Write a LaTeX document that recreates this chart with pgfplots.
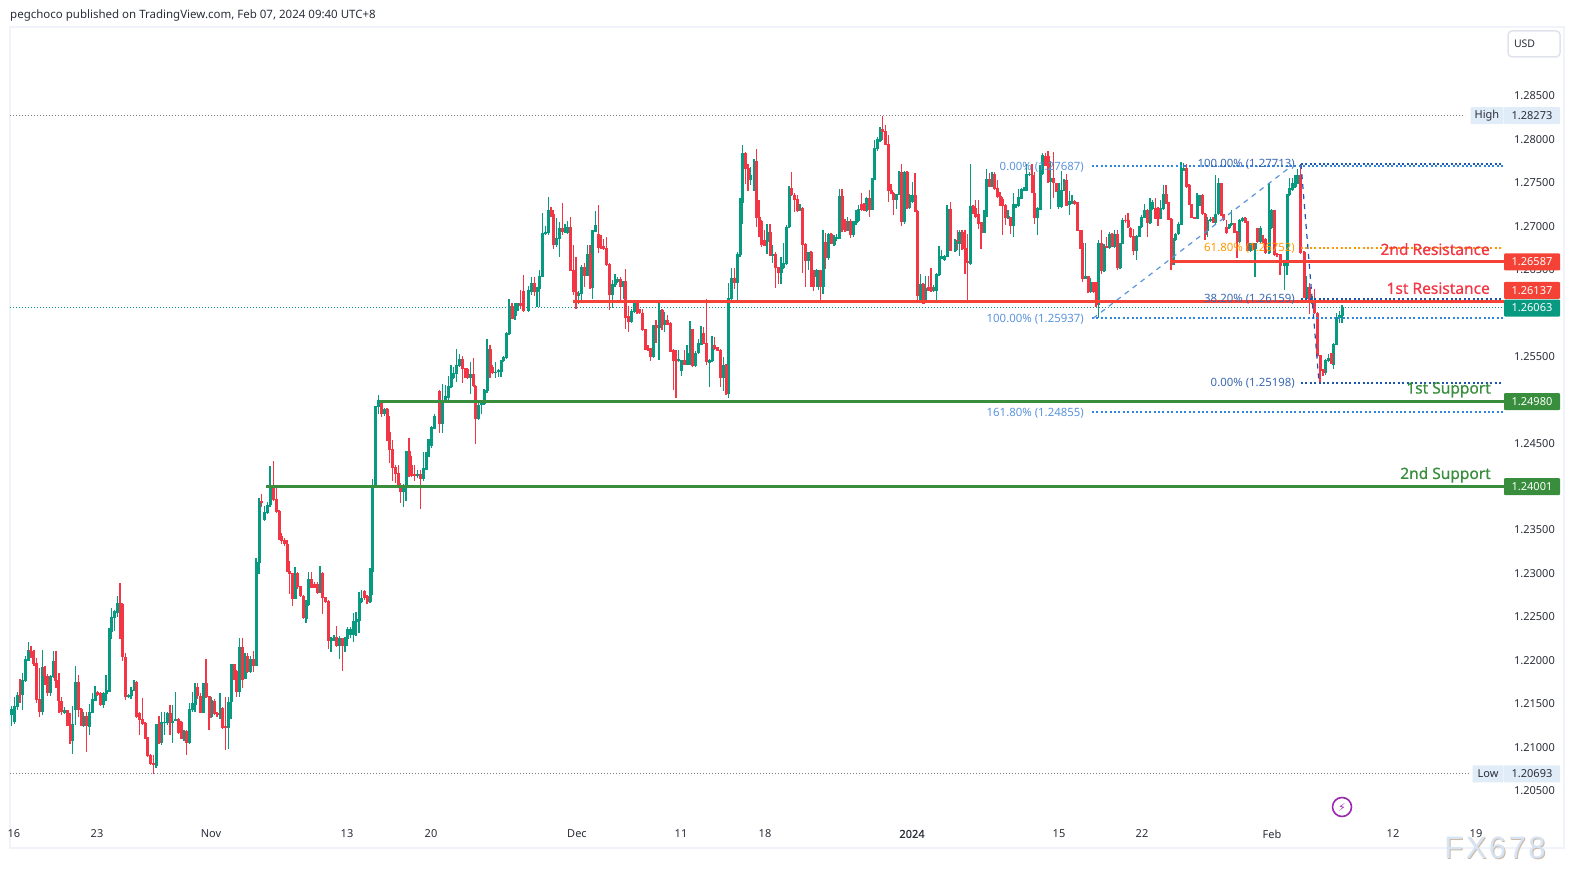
\documentclass[border=0pt]{standalone}
\usepackage{fontspec}
\usepackage{pgfplots}
\usepackage{pgfplotstable}
\pgfplotsset{compat=1.18}
\setmainfont{Noto Sans}
\newfontfamily\boldish[FakeBold=0.6]{Noto Sans}
\newfontfamily\wmfont[LetterSpace=8]{Liberation Sans}
\newfontfamily\symfont{DejaVu Sans}
\definecolor{cgreen}{HTML}{089981}
\definecolor{cred}{HTML}{F23645}
\definecolor{lred}{HTML}{F44336}
\definecolor{lgreen}{HTML}{388E3C}
\definecolor{frame}{HTML}{F0F3FA}
\definecolor{grayt}{HTML}{787B86}
\definecolor{tagb}{HTML}{E1ECF9}
\definecolor{fiba}{HTML}{2E86E0}
\definecolor{fibat}{HTML}{5B94DC}
\definecolor{fibb}{HTML}{1E55B0}
\definecolor{fibbt}{HTML}{3A68B0}
\definecolor{forange}{HTML}{FF9800}
\definecolor{txt}{HTML}{2A2E39}
\definecolor{wmfill}{HTML}{D6E4F4}
\definecolor{wmshadow}{HTML}{CDB9A6}
\definecolor{purp}{HTML}{9C27B0}
\definecolor{usdb}{HTML}{E0E3EB}
\pgfplotstableread{
x o h l c
11.7 1.2137 1.2147 1.2124 1.2143
14.3 1.2129 1.2158 1.2127 1.2147
17.3 1.2147 1.2163 1.2143 1.2160
20 1.2160 1.2179 1.2151 1.2159
22.7 1.2160 1.2185 1.2143 1.2177
25.3 1.2177 1.2205 1.2175 1.2201
28.3 1.2200 1.2221 1.2199 1.2212
31 1.2212 1.2216 1.2203 1.2210
34 1.2210 1.2212 1.2194 1.2196
36.7 1.2196 1.2203 1.2151 1.2155
39.3 1.2155 1.2191 1.2135 1.2141
42.3 1.2141 1.2212 1.2137 1.2192
45 1.2192 1.2193 1.2172 1.2182
47.7 1.2182 1.2184 1.2159 1.2163
50.3 1.2163 1.2183 1.2159 1.2181
53.3 1.2181 1.2211 1.2180 1.2199
56 1.2199 1.2211 1.2168 1.2177
59 1.2177 1.2185 1.2139 1.2153
61.7 1.2153 1.2158 1.2137 1.2141
64.3 1.2140 1.2146 1.2138 1.2142
67 1.2142 1.2143 1.2125 1.2125
70 1.2125 1.2139 1.2104 1.2107
72.7 1.2107 1.2147 1.2092 1.2126
75.3 1.2143 1.2193 1.2126 1.2175
78.3 1.2175 1.2183 1.2135 1.2143
81 1.2144 1.2145 1.2124 1.2125
83.7 1.2125 1.2140 1.2123 1.2135
86.7 1.2135 1.2140 1.2094 1.2125
89.3 1.2124 1.2150 1.2114 1.2140
92.3 1.2140 1.2162 1.2139 1.2155
95 1.2154 1.2170 1.2153 1.2163
97.7 1.2163 1.2165 1.2159 1.2160
100.3 1.2162 1.2164 1.2147 1.2149
103.3 1.2149 1.2164 1.2145 1.2162
106 1.2162 1.2183 1.2153 1.2165
109 1.2164 1.2237 1.2163 1.2233
111.7 1.2233 1.2260 1.2224 1.2249
114.3 1.2249 1.2258 1.2234 1.2256
117.3 1.2255 1.2274 1.2250 1.2266
120 1.2266 1.2289 1.2224 1.2265
122.7 1.2265 1.2266 1.2199 1.2204
125.3 1.2204 1.2208 1.2154 1.2158
128.3 1.2158 1.2161 1.2157 1.2160
131 1.2159 1.2169 1.2155 1.2166
134 1.2166 1.2177 1.2165 1.2175
136.7 1.2175 1.2176 1.2134 1.2135
139.3 1.2139 1.2140 1.2114 1.2132
142.3 1.2132 1.2157 1.2125 1.2127
145 1.2128 1.2129 1.2109 1.2111
147.7 1.2111 1.2112 1.2089 1.2090
150.7 1.2091 1.2092 1.2080 1.2081
153.3 1.2081 1.2091 1.2069 1.2080
156 1.2079 1.2126 1.2076 1.2126
159 1.2126 1.2136 1.2104 1.2105
161.7 1.2105 1.2141 1.2103 1.2128
164.3 1.2128 1.2140 1.2114 1.2129
167.3 1.2128 1.2140 1.2126 1.2139
170 1.2139 1.2149 1.2114 1.2129
172.7 1.2128 1.2149 1.2105 1.2130
175.7 1.2131 1.2163 1.2130 1.2132
178.3 1.2132 1.2134 1.2115 1.2117
181 1.2128 1.2130 1.2109 1.2110
184 1.2110 1.2120 1.2107 1.2118
186.7 1.2118 1.2120 1.2091 1.2105
189.3 1.2105 1.2151 1.2104 1.2143
192.3 1.2143 1.2164 1.2141 1.2150
195 1.2149 1.2174 1.2141 1.2169
197.7 1.2169 1.2174 1.2155 1.2159
200.7 1.2159 1.2162 1.2139 1.2140
203.3 1.2140 1.2174 1.2139 1.2173
206 1.2173 1.2202 1.2157 1.2158
209 1.2158 1.2159 1.2120 1.2134
211.7 1.2135 1.2158 1.2134 1.2154
214.3 1.2153 1.2155 1.2137 1.2139
217 1.2139 1.2141 1.2135 1.2137
220 1.2138 1.2162 1.2133 1.2145
222.7 1.2145 1.2146 1.2121 1.2123
225.3 1.2124 1.2158 1.2097 1.2122
228.3 1.2122 1.2158 1.2098 1.2152
231 1.2152 1.2195 1.2133 1.2195
234 1.2195 1.2196 1.2177 1.2178
236.7 1.2187 1.2189 1.2158 1.2164
239.3 1.2164 1.2226 1.2158 1.2215
242.3 1.2215 1.2226 1.2168 1.2178
245 1.2179 1.2209 1.2178 1.2205
247.7 1.2204 1.2208 1.2185 1.2187
250.7 1.2187 1.2205 1.2185 1.2201
253.3 1.2201 1.2211 1.2187 1.2194
256 1.2194 1.2318 1.2193 1.2313
259 1.2313 1.2387 1.2299 1.2383
261.7 1.2383 1.2391 1.2377 1.2382
264.3 1.2362 1.2378 1.2360 1.2370
267.3 1.2370 1.2382 1.2369 1.2379
270 1.2379 1.2424 1.2377 1.2400
273.3 1.2400 1.2429 1.2384 1.2385
276.3 1.2385 1.2400 1.2370 1.2371
279 1.2371 1.2373 1.2339 1.2343
281.7 1.2343 1.2347 1.2334 1.2338
284.3 1.2338 1.2341 1.2332 1.2334
287 1.2334 1.2338 1.2302 1.2303
289.3 1.2303 1.2314 1.2276 1.2300
292.3 1.2300 1.2301 1.2263 1.2271
295 1.2271 1.2308 1.2271 1.2300
297.7 1.2300 1.2302 1.2282 1.2285
300.3 1.2285 1.2286 1.2273 1.2274
303.3 1.2274 1.2275 1.2248 1.2249
306 1.2248 1.2269 1.2243 1.2265
308.7 1.2264 1.2302 1.2263 1.2293
311.7 1.2293 1.2302 1.2283 1.2284
314.3 1.2288 1.2290 1.2283 1.2284
317.3 1.2288 1.2290 1.2276 1.2278
320 1.2278 1.2309 1.2277 1.2300
322.7 1.2300 1.2302 1.2253 1.2272
325.3 1.2272 1.2273 1.2266 1.2268
328.3 1.2268 1.2270 1.2213 1.2223
331 1.2223 1.2227 1.2210 1.2225
334 1.2224 1.2229 1.2222 1.2227
336.7 1.2226 1.2239 1.2215 1.2217
339.3 1.2217 1.2228 1.2201 1.2225
342.3 1.2225 1.2226 1.2188 1.2217
345 1.2217 1.2227 1.2210 1.2225
347.7 1.2225 1.2238 1.2216 1.2236
350.3 1.2229 1.2238 1.2226 1.2236
353.3 1.2229 1.2254 1.2221 1.2245
356 1.2244 1.2256 1.2228 1.2247
359 1.2246 1.2279 1.2231 1.2269
361.7 1.2268 1.2281 1.2266 1.2271
364.3 1.2280 1.2281 1.2270 1.2272
367 1.2274 1.2275 1.2265 1.2268
370 1.2268 1.2306 1.2266 1.2302
372.7 1.2302 1.2409 1.2275 1.2400
375.7 1.2400 1.2492 1.2398 1.2492
378.3 1.2492 1.2505 1.2484 1.2499
381.3 1.2499 1.2500 1.2480 1.2484
384.3 1.2484 1.2490 1.2481 1.2489
387 1.2489 1.2490 1.2452 1.2463
389.7 1.2462 1.2481 1.2427 1.2443
392.3 1.2443 1.2454 1.2406 1.2422
395.3 1.2422 1.2425 1.2404 1.2415
398.3 1.2415 1.2425 1.2400 1.2402
400.7 1.2402 1.2404 1.2381 1.2394
403.3 1.2394 1.2403 1.2377 1.2402
406 1.2401 1.2441 1.2383 1.2441
409 1.2441 1.2456 1.2411 1.2424
411.7 1.2424 1.2435 1.2411 1.2413
414.7 1.2414 1.2425 1.2406 1.2413
417.7 1.2413 1.2419 1.2410 1.2414
420.3 1.2414 1.2419 1.2374 1.2409
423.3 1.2409 1.2440 1.2406 1.2421
426 1.2420 1.2440 1.2419 1.2436
428.7 1.2435 1.2454 1.2434 1.2454
431.3 1.2447 1.2470 1.2445 1.2468
434.7 1.2467 1.2484 1.2466 1.2481
439.3 1.2510 1.2511 1.2462 1.2472
442.3 1.2472 1.2518 1.2462 1.2498
445.3 1.2499 1.2517 1.2498 1.2504
448.3 1.2503 1.2527 1.2497 1.2516
451 1.2515 1.2540 1.2514 1.2526
453.7 1.2525 1.2538 1.2524 1.2530
456.7 1.2530 1.2559 1.2521 1.2540
459.3 1.2539 1.2553 1.2538 1.2547
462.3 1.2547 1.2550 1.2519 1.2536
465 1.2536 1.2537 1.2525 1.2526
467.7 1.2535 1.2537 1.2524 1.2526
470.7 1.2525 1.2544 1.2507 1.2529
473.3 1.2529 1.2548 1.2515 1.2516
475.7 1.2516 1.2517 1.2449 1.2478
478.3 1.2478 1.2500 1.2477 1.2494
481.3 1.2494 1.2498 1.2484 1.2498
484 1.2495 1.2512 1.2494 1.2511
487 1.2510 1.2570 1.2508 1.2558
490 1.2558 1.2563 1.2525 1.2532
492.7 1.2537 1.2540 1.2530 1.2531
495.3 1.2531 1.2544 1.2525 1.2532
498.3 1.2532 1.2535 1.2526 1.2534
501 1.2532 1.2546 1.2526 1.2545
503.7 1.2545 1.2550 1.2543 1.2549
506.3 1.2548 1.2578 1.2547 1.2576
509 1.2576 1.2616 1.2575 1.2608
512 1.2608 1.2611 1.2593 1.2594
515 1.2597 1.2611 1.2592 1.2603
517.7 1.2603 1.2612 1.2602 1.2611
520.3 1.2611 1.2627 1.2605 1.2608
523.3 1.2625 1.2644 1.2601 1.2603
528.7 1.2603 1.2631 1.2601 1.2626
531.3 1.2624 1.2641 1.2621 1.2634
534.3 1.2634 1.2641 1.2620 1.2624
537 1.2624 1.2630 1.2607 1.2629
539.7 1.2628 1.2649 1.2607 1.2642
542.3 1.2642 1.2715 1.2641 1.2692
545.3 1.2692 1.2700 1.2690 1.2693
548.3 1.2692 1.2733 1.2690 1.2718
551 1.2718 1.2722 1.2711 1.2713
553.7 1.2713 1.2718 1.2674 1.2679
556.7 1.2679 1.2709 1.2676 1.2686
559.3 1.2685 1.2705 1.2665 1.2697
562.3 1.2697 1.2727 1.2690 1.2694
565 1.2693 1.2703 1.2692 1.2694
567.7 1.2692 1.2706 1.2691 1.2699
570.3 1.2699 1.2711 1.2648 1.2649
573.7 1.2649 1.2678 1.2621 1.2624
576 1.2624 1.2665 1.2604 1.2620
578.7 1.2620 1.2625 1.2610 1.2623
581.7 1.2622 1.2655 1.2611 1.2652
584.3 1.2652 1.2657 1.2630 1.2643
587.3 1.2643 1.2678 1.2642 1.2668
590 1.2668 1.2678 1.2628 1.2629
592.3 1.2629 1.2696 1.2616 1.2695
595.3 1.2694 1.2717 1.2693 1.2701
598.3 1.2690 1.2724 1.2669 1.2675
601 1.2677 1.2690 1.2674 1.2675
603.7 1.2677 1.2685 1.2673 1.2674
606.3 1.2674 1.2687 1.2654 1.2656
609.3 1.2656 1.2657 1.2603 1.2621
612.3 1.2621 1.2638 1.2606 1.2633
615 1.2633 1.2645 1.2630 1.2636
617.7 1.2636 1.2641 1.2634 1.2639
620.3 1.2639 1.2641 1.2615 1.2630
623.3 1.2630 1.2637 1.2616 1.2636
625.7 1.2636 1.2651 1.2582 1.2595
628.7 1.2596 1.2608 1.2578 1.2590
631.3 1.2590 1.2605 1.2589 1.2602
634.3 1.2601 1.2615 1.2600 1.2614
637 1.2612 1.2614 1.2599 1.2600
639.7 1.2604 1.2605 1.2599 1.2600
642.3 1.2599 1.2604 1.2579 1.2581
645.3 1.2581 1.2582 1.2557 1.2558
648 1.2559 1.2563 1.2556 1.2558
650.7 1.2559 1.2560 1.2545 1.2550
653.3 1.2550 1.2586 1.2548 1.2586
656 1.2586 1.2592 1.2565 1.2583
659 1.2583 1.2613 1.2546 1.2603
662 1.2603 1.2604 1.2580 1.2586
664.7 1.2586 1.2601 1.2578 1.2591
667.3 1.2591 1.2598 1.2586 1.2587
670.3 1.2588 1.2590 1.2555 1.2556
673.3 1.2557 1.2558 1.2511 1.2545
676 1.2546 1.2557 1.2502 1.2545
678.7 1.2545 1.2557 1.2544 1.2547
681.3 1.2533 1.2546 1.2527 1.2546
684.3 1.2546 1.2557 1.2540 1.2541
687 1.2541 1.2563 1.2540 1.2553
690 1.2541 1.2591 1.2540 1.2581
692.7 1.2581 1.2582 1.2538 1.2539
695.3 1.2539 1.2556 1.2538 1.2554
698.3 1.2554 1.2570 1.2553 1.2565
701 1.2564 1.2585 1.2563 1.2576
703.7 1.2576 1.2584 1.2564 1.2565
706.7 1.2565 1.2616 1.2540 1.2544
709.3 1.2543 1.2547 1.2515 1.2546
712 1.2545 1.2573 1.2544 1.2563
714.7 1.2563 1.2572 1.2558 1.2559
717.7 1.2560 1.2561 1.2556 1.2557
720.3 1.2557 1.2559 1.2515 1.2525
723.3 1.2525 1.2549 1.2510 1.2540
726 1.2540 1.2541 1.2506 1.2507
728.7 1.2507 1.2634 1.2502 1.2617
731.7 1.2616 1.2652 1.2615 1.2640
734.3 1.2640 1.2652 1.2628 1.2635
737.3 1.2635 1.2670 1.2615 1.2667
740 1.2667 1.2732 1.2665 1.2727
742.7 1.2727 1.2793 1.2703 1.2784
745.3 1.2784 1.2785 1.2748 1.2766
748 1.2766 1.2772 1.2741 1.2753
750.7 1.2753 1.2768 1.2747 1.2759
754 1.2758 1.2777 1.2741 1.2775
756.3 1.2775 1.2789 1.2699 1.2710
759 1.2710 1.2730 1.2688 1.2704
761.7 1.2705 1.2707 1.2676 1.2679
764.3 1.2684 1.2695 1.2677 1.2678
767 1.2682 1.2703 1.2668 1.2693
770 1.2693 1.2703 1.2666 1.2667
772.7 1.2666 1.2678 1.2657 1.2667
775.3 1.2667 1.2670 1.2629 1.2652
778.3 1.2652 1.2653 1.2633 1.2646
781 1.2646 1.2665 1.2633 1.2652
783.7 1.2652 1.2680 1.2651 1.2657
786.3 1.2657 1.2701 1.2655 1.2699
789 1.2699 1.2746 1.2698 1.2744
791.7 1.2744 1.2762 1.2735 1.2736
794.3 1.2736 1.2738 1.2716 1.2731
797.3 1.2731 1.2736 1.2716 1.2718
800 1.2718 1.2726 1.2717 1.2721
802.7 1.2721 1.2722 1.2646 1.2679
805.7 1.2679 1.2680 1.2630 1.2660
808.3 1.2660 1.2670 1.2649 1.2670
811 1.2670 1.2671 1.2630 1.2649
813.7 1.2649 1.2650 1.2625 1.2630
816.4 1.2642 1.2651 1.2630 1.2649
818.7 1.2630 1.2650 1.2626 1.2649
820.9 1.2649 1.2650 1.2615 1.2630
823 1.2630 1.2695 1.2622 1.2681
825.7 1.2681 1.2692 1.2651 1.2664
828.3 1.2664 1.2692 1.2661 1.2691
831 1.2691 1.2692 1.2679 1.2680
834 1.2679 1.2690 1.2677 1.2686
836.7 1.2686 1.2691 1.2683 1.2687
839.3 1.2686 1.2743 1.2685 1.2734
842 1.2734 1.2743 1.2693 1.2696
845 1.2706 1.2708 1.2693 1.2695
847.7 1.2695 1.2710 1.2694 1.2706
850.3 1.2705 1.2708 1.2686 1.2690
853.3 1.2690 1.2706 1.2688 1.2705
856 1.2704 1.2718 1.2701 1.2707
858.7 1.2706 1.2724 1.2705 1.2719
861.3 1.2725 1.2738 1.2718 1.2719
864 1.2725 1.2727 1.2717 1.2718
866.7 1.2718 1.2734 1.2716 1.2732
869.3 1.2732 1.2742 1.2711 1.2719
872 1.2719 1.2755 1.2718 1.2754
874.7 1.2754 1.2799 1.2753 1.2789
877.3 1.2789 1.2803 1.2787 1.2800
880 1.2798 1.2814 1.2797 1.2812
882.7 1.2812 1.28273 1.2799 1.2809
885.7 1.2809 1.2816 1.2793 1.2794
888.3 1.2794 1.2805 1.2728 1.2741
891 1.2741 1.2749 1.2737 1.2738
893.7 1.2738 1.2739 1.2713 1.2731
896.3 1.2731 1.2737 1.2720 1.2737
899 1.2737 1.2764 1.2736 1.2762
901.7 1.2762 1.2771 1.2700 1.2705
904.3 1.2705 1.2763 1.2703 1.2762
907 1.2762 1.2763 1.2720 1.2721
909.7 1.2721 1.2737 1.2720 1.2736
912.3 1.2728 1.2751 1.2727 1.2736
915 1.2736 1.2761 1.2716 1.2717
917.7 1.2717 1.2718 1.2615 1.2620
920.3 1.2612 1.2645 1.2611 1.2633
923 1.2633 1.2634 1.2610 1.2611
925.7 1.2612 1.2642 1.2611 1.2628
928.3 1.2630 1.2642 1.2625 1.2626
931 1.2630 1.2652 1.2624 1.2626
933.7 1.2626 1.2632 1.2624 1.2630
936.3 1.2626 1.2646 1.2615 1.2644
939 1.2644 1.2677 1.2642 1.2664
941.7 1.2663 1.2673 1.2662 1.2665
944.3 1.2661 1.2667 1.2660 1.2665
947 1.2665 1.2724 1.2664 1.2719
950.7 1.2719 1.2728 1.2671 1.2672
955 1.2672 1.2685 1.2670 1.2683
957.7 1.2684 1.2695 1.2672 1.2683
959.3 1.2680 1.2695 1.2666 1.2693
962 1.2693 1.2695 1.2673 1.2674
965 1.2674 1.2695 1.2645 1.2659
967.3 1.2659 1.2691 1.2613 1.2658
970.3 1.2657 1.2771 1.2655 1.2723
973 1.2723 1.2724 1.2714 1.2715
975.7 1.2721 1.2730 1.2710 1.2711
978.3 1.2714 1.2730 1.2697 1.2703
981 1.2704 1.2705 1.2674 1.2693
984 1.2693 1.2718 1.2692 1.2711
986.7 1.2711 1.2766 1.2710 1.2754
989.3 1.2754 1.2761 1.2745 1.2746
992 1.2746 1.2762 1.2745 1.2760
994.7 1.2760 1.2762 1.2742 1.2743
997.3 1.2743 1.2753 1.2733 1.2734
1000 1.2734 1.2739 1.2723 1.2724
1002.7 1.2731 1.2733 1.2690 1.2724
1005.3 1.2724 1.2725 1.2701 1.2710
1008 1.2709 1.2718 1.2708 1.2711
1010.7 1.2710 1.2711 1.2691 1.2700
1013.3 1.2700 1.2738 1.2687 1.2725
1016 1.2723 1.2726 1.2721 1.2725
1018.7 1.2723 1.2743 1.2722 1.2733
1021.3 1.2732 1.2744 1.2731 1.2742
1024 1.2741 1.2745 1.2740 1.2742
1026.7 1.2741 1.2772 1.2740 1.2760
1029.3 1.2759 1.2762 1.2758 1.2760
1032 1.2759 1.2772 1.2738 1.2739
1034.7 1.2738 1.2762 1.2702 1.2710
1037.3 1.2710 1.2722 1.2690 1.2721
1040 1.2719 1.2770 1.2718 1.2760
1042.7 1.2760 1.2784 1.2759 1.2782
1045.3 1.2780 1.2784 1.2769 1.2770
1048 1.2780 1.2786 1.2750 1.2751
1050.7 1.2751 1.2775 1.2720 1.2755
1053.3 1.2755 1.2785 1.2732 1.2750
1056 1.2749 1.2750 1.2740 1.2741
1058.7 1.2722 1.2750 1.2720 1.2749
1061.3 1.2722 1.2764 1.2721 1.2741
1064 1.2741 1.2754 1.2740 1.2753
1066.7 1.2753 1.2760 1.2723 1.2724
1069.3 1.2725 1.2741 1.2713 1.2728
1072 1.2726 1.2736 1.2725 1.2729
1074.7 1.2728 1.2730 1.2725 1.2726
1077.3 1.2727 1.2728 1.2694 1.2695
1080 1.2695 1.2696 1.2674 1.2680
1082.7 1.2680 1.2695 1.2636 1.2640
1085.3 1.2640 1.2680 1.2639 1.2642
1088 1.2642 1.2643 1.2623 1.2624
1090.7 1.2624 1.2640 1.2623 1.2635
1093.3 1.2635 1.2636 1.2623 1.2624
1096 1.2635 1.2636 1.2607 1.2609
1098.3 1.2609 1.2684 1.25937 1.2680
1101.3 1.2680 1.2696 1.2645 1.2649
1104 1.2649 1.2679 1.2647 1.2677
1106.7 1.2677 1.2688 1.2675 1.2676
1109.3 1.2675 1.2693 1.2674 1.2690
1112 1.2690 1.2692 1.2676 1.2677
1114.7 1.2676 1.2695 1.2675 1.2690
1117.3 1.2690 1.2695 1.2650 1.2652
1120 1.2652 1.2681 1.2651 1.2680
1122.7 1.2680 1.2709 1.2679 1.2707
1125.3 1.2707 1.2713 1.2704 1.2706
1128 1.2707 1.2715 1.2698 1.2699
1130.7 1.2698 1.2699 1.2687 1.2688
1133.3 1.2688 1.2697 1.2667 1.2672
1136.3 1.2672 1.2690 1.2661 1.2688
1139 1.2688 1.2700 1.2687 1.2699
1141.7 1.2699 1.2713 1.2698 1.2710
1144.3 1.2710 1.2726 1.2709 1.2718
1147.3 1.2718 1.2720 1.2688 1.2704
1150 1.2704 1.2732 1.2703 1.2727
1152.7 1.2720 1.2730 1.2719 1.2727
1155.3 1.2720 1.2732 1.2708 1.2709
1158 1.2720 1.2722 1.2700 1.2709
1160.7 1.2709 1.2730 1.2708 1.2720
1163.3 1.2720 1.2747 1.2719 1.2737
1166 1.2737 1.2747 1.2726 1.2727
1168.7 1.2727 1.2728 1.2707 1.2708
1171 1.2708 1.2709 1.2649 1.2656
1173.5 1.2656 1.2686 1.2655 1.2684
1175.7 1.2684 1.2692 1.2683 1.2691
1178.3 1.2691 1.2705 1.2690 1.2702
1181 1.2702 1.2774 1.2701 1.2766
1183.7 1.2764 1.2773 1.2763 1.2766
1186.3 1.2766 1.2772 1.2744 1.2745
1189 1.2747 1.2749 1.2724 1.2725
1191.7 1.2725 1.2726 1.2709 1.2710
1194.3 1.2710 1.2711 1.2708 1.2709
1197 1.2709 1.2738 1.2708 1.2726
1199.7 1.2724 1.2736 1.2723 1.2736
1202.3 1.2736 1.2737 1.2713 1.2714
1205 1.2714 1.2715 1.2684 1.2690
1207.7 1.2695 1.2711 1.2688 1.2707
1210.3 1.2707 1.2710 1.2705 1.2708
1213 1.2708 1.2710 1.2704 1.2705
1215.7 1.2704 1.2759 1.2703 1.2713
1218.3 1.2714 1.2755 1.2713 1.2749
1221 1.2749 1.2750 1.2712 1.2713
1223.7 1.2713 1.2714 1.2706 1.2707
1226.3 1.2699 1.2707 1.2691 1.2692
1229 1.2698 1.2703 1.2697 1.2702
1231.7 1.2702 1.2718 1.2700 1.2703
1234.3 1.2703 1.2704 1.2692 1.2693
1237 1.2693 1.2694 1.2663 1.2682
1239.7 1.2682 1.2708 1.2681 1.2707
1242.3 1.2706 1.2710 1.2705 1.2709
1245 1.2709 1.2710 1.2704 1.2705
1247.7 1.2705 1.2706 1.2671 1.2672
1250.3 1.2672 1.2681 1.2670 1.2680
1253 1.2680 1.2681 1.2673 1.2674
1255 1.2674 1.2680 1.2641 1.2680
1257.7 1.2697 1.2698 1.2681 1.2682
1260.3 1.2682 1.2700 1.2681 1.2697
1263 1.2685 1.2690 1.2681 1.2682
1265.5 1.2685 1.2686 1.2668 1.2669
1269 1.2669 1.2750 1.2668 1.2711
1271.7 1.2698 1.2720 1.2697 1.2718
1274.3 1.2718 1.2719 1.2666 1.2667
1277 1.2668 1.2669 1.2664 1.2667
1280 1.2667 1.2668 1.2644 1.2655
1284.3 1.2654 1.2660 1.2626 1.2659
1287 1.2654 1.2737 1.2644 1.2736
1289.7 1.2736 1.2755 1.2735 1.2743
1292.3 1.2742 1.2755 1.2741 1.2749
1295 1.2745 1.2759 1.2744 1.2749
1297.7 1.2749 1.2766 1.2748 1.2758
1300.7 1.2758 1.27713 1.2668 1.2670
1304 1.2670 1.2671 1.2617 1.2618
1306.7 1.2617 1.2643 1.2615 1.2630
1309.3 1.2630 1.2634 1.2599 1.2612
1312 1.2611 1.2619 1.2610 1.2615
1314.7 1.2615 1.2628 1.2599 1.2600
1317.3 1.2600 1.2601 1.2550 1.2551
1320 1.2551 1.2552 1.25198 1.2534
1323 1.2535 1.2536 1.2527 1.2531
1325.7 1.2531 1.2547 1.2529 1.2546
1328.3 1.2545 1.2553 1.2544 1.2548
1331 1.2553 1.2554 1.2541 1.2542
1333.7 1.2541 1.2565 1.2536 1.2564
1336.7 1.2564 1.2600 1.2563 1.2595
1339.3 1.2595 1.2602 1.2588 1.2597
1342 1.2597 1.2609 1.2588 1.26063
}\candles
\tikzset{dotg/.style={color=grayt,line width=1pt,dash pattern=on 1pt off 2pt},
 dott/.style={color=cgreen,line width=1pt,dash pattern=on 1pt off 2pt},
 fa/.style={color=fiba,line width=2pt,dash pattern=on 2pt off 2.4pt},
 fb/.style={color=fibb,line width=2pt,dash pattern=on 2pt off 2.4pt},
 fo/.style={color=forange,line width=2pt,dash pattern=on 2pt off 2.4pt},
 tag/.style={minimum width=56pt,minimum height=17pt,inner sep=0pt,rounded corners=1pt,text=white,font=\fontsize{11}{13}\selectfont},
 ltag/.style={fill=tagb,minimum height=17pt,inner sep=0pt,rounded corners=1pt,text=txt,font=\fontsize{11}{13}\selectfont},
 flab/.style={anchor=east,inner sep=0pt,font=\fontsize{11.4}{13}\selectfont},
 lvl/.style={anchor=east,inner sep=0pt,font=\fontsize{15.5}{17}\boldish}}
\pgfplotsset{
 wick/.style={draw=none,no markers,forget plot,error bars/.cd,y dir=both,y explicit,error mark=none,error bar style={solid,draw=#1,line width=1.1pt}},
 body/.style={draw=none,no markers,forget plot,error bars/.cd,y dir=both,y explicit,error mark=none,error bar style={solid,draw=#1,line width=3pt}}}
\begin{document}
\begin{tikzpicture}
\begin{axis}[
  scale only axis, width=1554pt, height=821pt,
  xmin=10, xmax=1564, ymin=1.198391, ymax=1.292934,
  clip=false,
  axis line style={color=frame,line width=2pt},
  major tick length=0pt,
  ytick={1.205,1.21,1.215,1.22,1.225,1.23,1.235,1.24,1.245,1.25,1.255,1.26,1.265,1.27,1.275,1.28,1.285},
  yticklabel pos=right,
  yticklabel style={anchor=east,xshift=-9pt,inner sep=0pt,text=txt,font=\fontsize{11}{13}\selectfont,
     /pgf/number format/fixed,/pgf/number format/fixed zerofill,/pgf/number format/precision=5,/pgf/number format/assume math mode=true},
  xtick={14,97,211,347,431,577,681,765,912,1059,1142,1272,1393,1476},
  xticklabels={16,23,Nov,13,20,Dec,11,18,{\boldish 2024},15,22,Feb,12,19},
  xticklabel style={anchor=center,yshift=14pt,inner sep=0pt,text=txt,font=\fontsize{11}{13}\selectfont},
]
\path (axis cs:0,1.29604) (axis cs:1574,1.19436);
% reference dotted lines
\addplot[dotg] coordinates {(10,1.28273) (1465,1.28273)};
\addplot[dotg] coordinates {(10,1.20693) (1470,1.20693)};
\addplot[dott] coordinates {(10,1.26063) (1504,1.26063)};
% candles: wicks then bodies
\addplot[restrict expr to domain={\thisrow{c}-\thisrow{o}}{0:1},wick=cgreen]
  table[x=x,y=c,y error plus expr=\thisrow{h}-\thisrow{c},y error minus expr=\thisrow{c}-\thisrow{l}]{\candles};
\addplot[restrict expr to domain={\thisrow{c}-\thisrow{o}}{-1:-0.000001},wick=cred]
  table[x=x,y=c,y error plus expr=\thisrow{h}-\thisrow{c},y error minus expr=\thisrow{c}-\thisrow{l}]{\candles};
\addplot[restrict expr to domain={\thisrow{c}-\thisrow{o}}{0:1},body=cgreen]
  table[x=x,y expr=0.5*(\thisrow{o}+\thisrow{c}),y error expr=0.5*(\thisrow{c}-\thisrow{o})+0.00004]{\candles};
\addplot[restrict expr to domain={\thisrow{c}-\thisrow{o}}{-1:-0.000001},body=cred]
  table[x=x,y expr=0.5*(\thisrow{o}+\thisrow{c}),y error expr=0.5*(\thisrow{o}-\thisrow{c})+0.00004]{\candles};
% fib A
\addplot[fa] coordinates {(1092,1.27687) (1503,1.27687)};
\addplot[fa] coordinates {(1092,1.25937) (1503,1.25937)};
\addplot[fa] coordinates {(1092,1.24855) (1503,1.24855)};
\addplot[color=fibat,line width=1.2pt,dash pattern=on 5pt off 5pt] coordinates {(1093,1.25937) (1291,1.27687)};
% fib B
\addplot[fb] coordinates {(1301,1.27713) (1503,1.27713)};
\addplot[fo] coordinates {(1301,1.26752) (1503,1.26752)};
\addplot[fb] coordinates {(1301,1.26159) (1503,1.26159)};
\addplot[fb] coordinates {(1301,1.25198) (1503,1.25198)};
\addplot[color=fibb,line width=1.2pt,dash pattern=on 5pt off 5pt] coordinates {(1301,1.27713) (1319,1.25198)};
% levels
\addplot[color=lred,line width=3pt] coordinates {(1170,1.26587) (1504,1.26587)};
\addplot[color=lred,line width=3pt] coordinates {(573,1.26137) (1504,1.26137)};
\addplot[color=lgreen,line width=3pt] coordinates {(380,1.2498) (1504,1.2498)};
\addplot[color=lgreen,line width=3pt] coordinates {(266,1.24001) (1504,1.24001)};
% labels
\node[flab,text=fibat] at (axis cs:1084,1.27682) {0.00\% (1.27687)};
\node[flab,text=fibat] at (axis cs:1084,1.25932) {100.00\% (1.25937)};
\node[flab,text=fibat] at (axis cs:1084,1.24850) {161.80\% (1.24855)};
\node[flab,text=fibbt] at (axis cs:1295,1.27710) {100.00\% (1.27713)};
\node[flab,text=forange] at (axis cs:1295,1.26750) {61.80\% (1.26752)};
\node[flab,text=fibbt] at (axis cs:1295,1.26155) {38.20\% (1.26159)};
\node[flab,text=fibbt] at (axis cs:1295,1.25195) {0.00\% (1.25198)};
\node[lvl,text=cred] at (axis cs:1490,1.26735) {2nd Resistance};
\node[lvl,text=cred] at (axis cs:1490,1.26285) {1st Resistance};
\node[lvl,text=lgreen] at (axis cs:1491,1.25115) {1st Support};
\node[lvl,text=lgreen] at (axis cs:1491,1.24135) {2nd Support};
\node[anchor=west,inner sep=0pt,text=txt,font=\fontsize{11.5}{13}\selectfont] at (axis cs:10,1.29420) {pegchoco published on TradingView.com, Feb 07, 2024 09:40 UTC+8};
% named points for the overlays
\coordinate (usd) at (axis cs:1534,1.29098);
\coordinate (t1) at (axis cs:1532,1.26587);
\coordinate (t2) at (axis cs:1532,1.26259);
\coordinate (t3) at (axis cs:1532,1.26057);
\coordinate (t4) at (axis cs:1532,1.2498);
\coordinate (t5) at (axis cs:1532,1.24001);
\coordinate (hi) at (axis cs:1532,1.28273);
\coordinate (hl) at (axis cs:1487,1.28273);
\coordinate (lo) at (axis cs:1532,1.20693);
\coordinate (ll) at (axis cs:1488,1.20693);
\coordinate (bolt) at (axis cs:1342,1.20311);
\coordinate (wm) at (axis cs:1495,1.19839);
\end{axis}
\node[tag,fill=lred] at (t1) {1.26587};
\node[tag,fill=lred] at (t2) {1.26137};
\node[tag,fill=cgreen] at (t3) {1.26063};
\node[tag,fill=lgreen] at (t4) {1.24980};
\node[tag,fill=lgreen] at (t5) {1.24001};
\node[ltag,minimum width=56pt] at (hi) {1.28273};
\node[ltag,minimum width=33pt] at (hl) {High};
\node[ltag,minimum width=56pt] at (lo) {1.20693};
\node[ltag,minimum width=31pt] at (ll) {Low};
\node[draw=usdb,line width=1.5pt,rounded corners=4pt,minimum width=52pt,minimum height=26pt,inner sep=0pt,fill=white,text=txt,font=\fontsize{10.5}{12}\selectfont,anchor=center,text width=40pt] at (usd) {USD};
\node[circle,draw=purp,line width=1.6pt,minimum size=19pt,inner sep=0pt,text=purp,font=\fontsize{11}{12}\symfont] at (bolt) {⚡};
\node[text=wmshadow,font=\fontsize{31}{33}\wmfont,inner sep=0pt] at ([shift={(1pt,-1pt)}]wm) {FX678};
\node[text=wmfill,font=\fontsize{31}{33}\wmfont,inner sep=0pt] at (wm) {FX678};
\end{tikzpicture}
\end{document}
